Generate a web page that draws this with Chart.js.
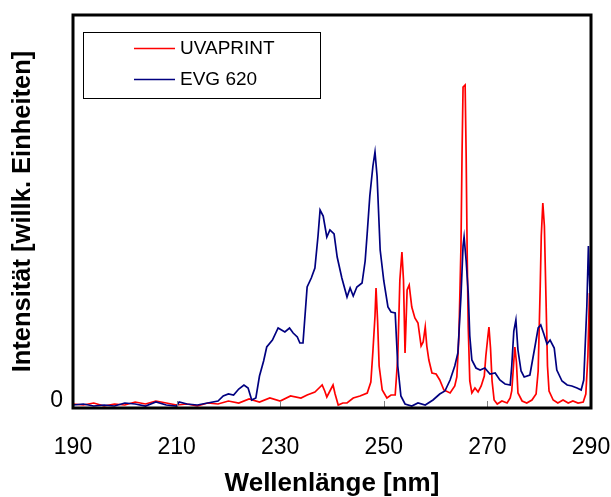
<!DOCTYPE html>
<html lang="de">
<head>
<meta charset="UTF-8">
<title>Spektren UVAPRINT / EVG 620</title>
<style>
  html, body { margin: 0; padding: 0; background: #fff; }
  #wrap { width: 611px; height: 497px; }
</style>
</head>
<body>
<div id="wrap"><canvas id="spec" width="611" height="497"></canvas></div>
<script src="https://cdn.jsdelivr.net/npm/chart.js"></script>
<script>
// Wellenlänge [nm] und Intensität (willk. Einheiten)
const uvaprintNm = [190,192,194,196,198,200,202,204,206,208,210,212,214,216,218,220,222,224,226,228,230,232,234,
  235.2,236.7,237.7,238.1,238.6,239.0,239.6,240.2,240.6,241.2,242.1,242.9,244.1,245.4,246.8,247.5,247.9,248.3,248.5,248.8,249.1,249.7,
  250.6,251.4,252.2,252.7,253.1,253.5,253.8,254.1,254.5,254.9,255.4,256.0,256.6,257.2,257.6,258.0,258.3,258.7,259.3,260.1,260.8,261.6,
  262.8,263.7,264.1,264.5,264.9,265.1,265.3,265.7,265.9,266.1,266.3,266.6,267.0,267.6,268.2,268.8,269.4,269.7,270.1,270.3,270.6,270.9,
  271.3,271.9,272.8,273.8,274.4,274.7,275.1,275.3,275.6,275.9,276.7,277.6,278.6,279.4,279.8,280.2,280.4,280.7,281.0,281.3,281.6,281.9,
  282.7,283.6,284.6,285.6,286.5,287.5,288.5,289.0,289.4,289.7,289.9,290];
const uvaprintVal = [2,1,3,0,2,1,4,2,5,3,1,2,0,3,2,5,3,7,4,8,5,10,8,
  11,14,19,21,15,9,15,21,12,1,3,3,8,10,13,24,55,90,118,85,40,16,
  8,11,11,49,126,154,126,53,116,121,99,88,83,60,64,79,60,46,33,32,26,16,
  13,20,29,70,160,250,319,321,250,150,79,25,13,18,14,20,30,50,70,79,58,25,
  6,2,5,3,8,15,45,59,44,13,5,3,6,12,35,120,170,203,180,110,40,15,
  6,3,6,3,5,3,4,12,50,113,40,5];

const evgNm = [190,192,194,196,198,200,202,204,206,208,210,210.5,212,214,216,218,219,220,221,222,223,223.8,224.5,225.3,226.0,226.8,
  227.4,228.5,229.6,230.9,231.8,232.5,233.3,233.8,234.4,235.2,236.0,236.7,237.3,237.7,238.3,239.0,239.6,240.4,241.0,241.9,242.9,243.5,244.1,244.8,245.8,
  246.4,246.8,247.3,247.9,248.3,248.7,249.3,250.0,250.8,251.4,252.2,252.7,253.3,254.1,255.4,256.6,258.0,259.5,260.8,261.8,262.8,263.7,
  264.3,264.9,265.3,265.5,265.9,266.3,266.6,267.0,267.8,268.6,269.5,270.5,271.5,272.4,273.4,274.4,274.7,275.1,275.5,275.9,276.5,277.1,
  278.2,279.2,279.8,280.3,280.9,281.5,282.1,282.9,283.4,284.4,285.4,286.3,287.3,288.1,288.6,289.2,289.5,289.8,290];
const evgVal = [1,2,0,1,0,3,2,0,4,1,0,4,2,1,3,5,10,12,11,17,21,18,6,8,30,45,
  59,66,78,74,78,73,69,63,63,119,128,138,170,196,190,169,176,172,149,128,109,118,110,119,123,
  145,173,210,240,254,230,156,125,99,94,93,40,10,2,0,3,1,6,12,15,26,40,
  53,110,160,169,145,113,70,46,38,36,38,32,33,26,22,21,40,75,86,56,35,29,
  31,60,78,81,72,62,66,58,36,25,21,20,18,16,26,100,160,115,80];

const xTicks = [190, 210, 230, 250, 270, 290];

function pts(xs, ys) { return xs.map((x, i) => ({ x: x, y: ys[i] })); }

const frame = {
  id: 'frame',
  afterDatasetsDraw(chart) {
    const { ctx, chartArea: a, scales } = chart;
    ctx.save();
    // kleine Teilstriche nach innen
    ctx.strokeStyle = '#808080';
    ctx.lineWidth = 1;
    xTicks.slice(1, -1).forEach(v => {
      const px = Math.round(scales.x.getPixelForValue(v)) + 0.5;
      ctx.beginPath();
      ctx.moveTo(px, a.bottom);
      ctx.lineTo(px, a.bottom - 7);
      ctx.stroke();
    });
    // Rahmen
    ctx.strokeStyle = '#000';
    ctx.lineWidth = 3;
    ctx.strokeRect(a.left, a.top, a.right - a.left, a.bottom - a.top);
    // Legende
    const lx = 83.5, ly = 32.5, lw = 237, lh = 66;
    ctx.fillStyle = '#fff';
    ctx.fillRect(lx, ly, lw, lh);
    ctx.lineWidth = 1;
    ctx.strokeRect(lx, ly, lw, lh);
    ctx.font = '19px "Liberation Sans", Arial, sans-serif';
    ctx.textBaseline = 'middle';
    ctx.textAlign = 'left';
    chart.data.datasets.forEach((ds, i) => {
      const y = 48.5 + i * 31;
      ctx.strokeStyle = ds.borderColor;
      ctx.lineWidth = 1.5;
      ctx.beginPath();
      ctx.moveTo(134, y);
      ctx.lineTo(175, y);
      ctx.stroke();
      ctx.fillStyle = '#000';
      ctx.fillText(ds.label, 180, y);
    });
    ctx.restore();
  }
};

new Chart(document.getElementById('spec').getContext('2d'), {
  type: 'line',
  data: {
    datasets: [
      { label: 'UVAPRINT', data: pts(uvaprintNm, uvaprintVal), borderColor: '#ff0000', borderWidth: 1.7, pointRadius: 0, tension: 0, order: 1 },
      { label: 'EVG 620', data: pts(evgNm, evgVal), borderColor: '#000080', borderWidth: 1.7, pointRadius: 0, tension: 0, order: 0 }
    ]
  },
  options: {
    responsive: false,
    animation: false,
    events: [],
    layout: { padding: { top: 15, right: 20, left: 0, bottom: 0 } },
    plugins: { legend: { display: false }, tooltip: { enabled: false } },
    scales: {
      x: {
        type: 'linear', min: 190, max: 290,
        afterFit(s) { s.height = 89; s.paddingLeft = 0; s.paddingRight = 0; },
        afterBuildTicks(s) { s.ticks = xTicks.map(v => ({ value: v })); },
        grid: { display: false, drawTicks: false },
        border: { display: false },
        ticks: { padding: 26, color: '#000', font: { family: '"Liberation Sans", Arial, sans-serif', size: 23 }, maxRotation: 0 },
        title: { display: true, text: 'Wellenlänge [nm]', color: '#000', padding: { top: 0, bottom: 0 },
          font: { family: '"Liberation Sans", Arial, sans-serif', size: 26, weight: 'bold', lineHeight: 1 } }
      },
      y: {
        min: -2, max: 391,
        afterFit(s) { s.width = 73; s.paddingTop = 0; s.paddingBottom = 0; },
        afterBuildTicks(s) { s.ticks = [{ value: 0 }]; },
        grid: { display: false, drawTicks: false },
        border: { display: false },
        ticks: { padding: 10, labelOffset: -5, color: '#000', font: { family: '"Liberation Sans", Arial, sans-serif', size: 23 } },
        title: { display: true, text: 'Intensität [willk. Einheiten]', color: '#000', padding: { top: 10, bottom: 0 },
          font: { family: '"Liberation Sans", Arial, sans-serif', size: 25.5, weight: 'bold', lineHeight: 1 } }
      }
    }
  },
  plugins: [frame]
});
</script>
</body>
</html>
